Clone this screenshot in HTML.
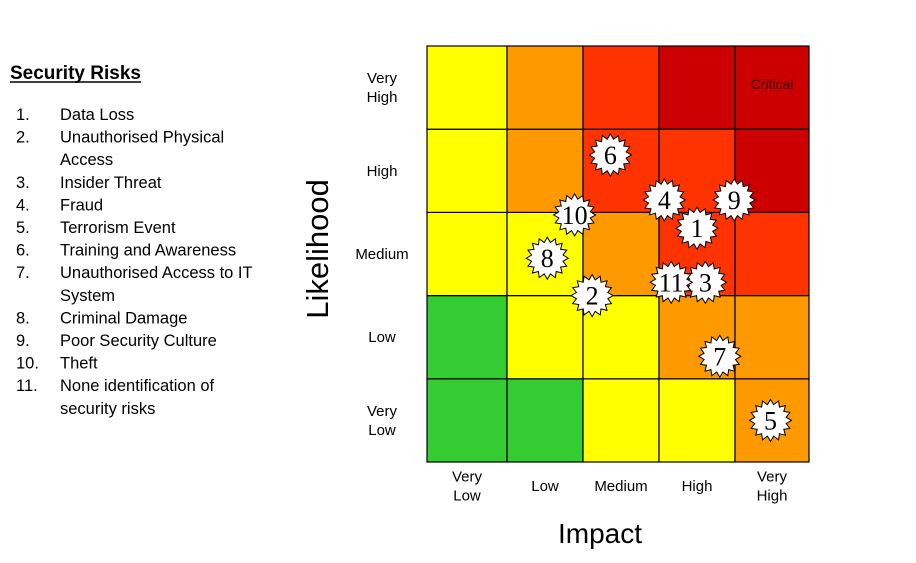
<!DOCTYPE html>
<html><head><meta charset="utf-8"><style>
body{margin:0;background:#fff;width:916px;height:558px;overflow:hidden;font-family:"Liberation Sans",Arial,sans-serif}
</style></head><body>
<svg width="916" height="558" xmlns="http://www.w3.org/2000/svg">
<g font-family="Liberation Sans, Arial, sans-serif" font-size="16.5" fill="#000">
<text x="10" y="79" font-size="19" font-weight="bold">Security Risks</text>
<line x1="10" y1="82" x2="141" y2="82" stroke="#000" stroke-width="1.5"/>
<g id="legend-items"></g>
</g>
<g id="grid"></g>
<g id="ylabels" font-size="15" fill="#000" text-anchor="middle"></g>
<g id="xlabels" font-size="15" fill="#000" text-anchor="middle"></g>
<text x="772" y="89" font-size="14" fill="#330000" text-anchor="middle">Critical</text>
<text transform="translate(328,249) rotate(-90)" font-size="31" text-anchor="middle">Likelihood</text>
<text x="600" y="543" font-size="28" text-anchor="middle">Impact</text>
<g id="bursts"></g>
</svg>
<script>
const legendItems=["Data Loss","Unauthorised Physical|Access","Insider Threat","Fraud","Terrorism Event","Training and Awareness","Unauthorised Access to IT|System","Criminal Damage","Poor Security Culture","Theft","None identification of|security risks"];
const impactLabels=[["Very","Low"],["Low"],["Medium"],["High"],["Very","High"]];
const likelihoodLabels=[["Very","Low"],["Low"],["Medium"],["High"],["Very","High"]];
// rows from bottom (Very Low) to top (Very High)
const cellColors=[
["#33CC33","#33CC33","#FFFF00","#FFFF00","#FF9900"],
["#33CC33","#FFFF00","#FFFF00","#FF9900","#FF9900"],
["#FFFF00","#FFFF00","#FF9900","#FF3300","#FF3300"],
["#FFFF00","#FF9900","#FF3300","#FF3300","#CC0000"],
["#FFFF00","#FF9900","#FF3300","#CC0000","#CC0000"]];
const riskIds=[1,2,3,4,5,6,7,8,9,10,11];
const riskImpact=[3.50,2.12,3.61,3.07,4.48,2.36,3.80,1.53,3.99,1.89,3.16];
const riskLikelihood=[2.81,2.00,2.16,3.15,0.50,3.69,1.27,2.45,3.15,2.97,2.16];

const NS="http://www.w3.org/2000/svg";
const colEdges=[427,507,583,659,735,809];
const Y0=462,Y1=46;
const xs=v=>{const i=Math.max(0,Math.min(4,Math.floor(v)));return colEdges[i]+(v-i)*(colEdges[i+1]-colEdges[i]);};
const ys=v=>Y0-v*(Y0-Y1)/5;
function mk(t,a,p){const e=document.createElementNS(NS,t);for(const k in a)e.setAttribute(k,a[k]);p.appendChild(e);return e;}

const lg=document.getElementById('legend-items');
let ly=120;
legendItems.forEach((s,i)=>{
  const parts=s.split('|');
  const g=mk('g',{},lg);
  
  
  mk('text',{x:16,y:ly},g).textContent=(i+1)+'.';
  parts.forEach((p,j)=>{mk('text',{x:60,y:ly+j*22.6},g).textContent=p;});
  ly+=22.6*parts.length;
});

const grid=document.getElementById('grid');
cellColors.forEach((row,r)=>row.forEach((c,ci)=>{
  const el=mk('rect',{x:xs(ci),y:ys(r+1),width:xs(ci+1)-xs(ci),height:ys(r)-ys(r+1),fill:c,stroke:'#000','stroke-width':1.2},grid);
  
  
}));

const yl=document.getElementById('ylabels');
likelihoodLabels.forEach((l,i)=>{
  const cy=(ys(i)+ys(i+1))/2, cx=382;
  const t=mk('text',{x:cx,y:0},yl);
  
  
  l.forEach((w,j)=>{mk('tspan',{x:cx,y:cy+5+(j-(l.length-1)/2)*19},t).textContent=w;});
});
const xl=document.getElementById('xlabels');
impactLabels.forEach((l,i)=>{
  const cx=(xs(i)+xs(i+1))/2;
  const t=mk('text',{x:cx,y:0},xl);
  
  
  l.forEach((w,j)=>{mk('tspan',{x:cx,y:491+(j-(l.length-1)/2)*19},t).textContent=w;});
});

const bg=document.getElementById('bursts');
riskIds.forEach((id,i)=>{
  const cx=xs(riskImpact[i]),cy=ys(riskLikelihood[i]);
  const n=16,ro=21,ri=16;let pts=[];
  for(let k=0;k<n*2;k++){const a=Math.PI*k/n,r=k%2?ri:ro;pts.push((cx+r*Math.cos(a)).toFixed(1)+','+(cy+r*Math.sin(a)).toFixed(1));}
  const g=mk('g',{},bg);
  
  
  mk('polygon',{points:pts.join(' '),fill:'#fff',stroke:'#000','stroke-width':1},g);
  const t=mk('text',{x:cx,y:cy+9,'text-anchor':'middle','font-family':'Liberation Serif, serif','font-size':26},g);
  t.textContent=id;
});
</script>
</body></html>
